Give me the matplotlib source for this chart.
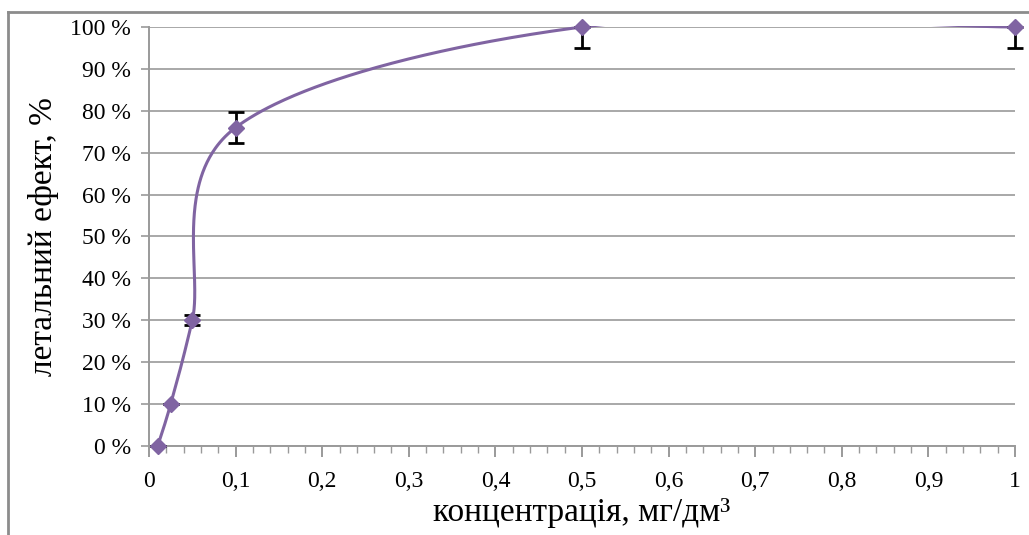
import numpy as np
import matplotlib
matplotlib.use("Agg")
import matplotlib.pyplot as plt
from matplotlib.lines import Line2D
from matplotlib.patches import Rectangle

# Data
conc = [0.01, 0.025, 0.05, 0.1, 0.5, 1.0]
effect = [0, 10, 30, 76, 100, 100]
err_low = [0, 0, 1.2, 3.7, 5, 5]
err_high = [0, 0, 1.2, 3.7, 0, 0]
xticks = [0, 0.1, 0.2, 0.3, 0.4, 0.5, 0.6, 0.7, 0.8, 0.9, 1.0]
xticklabels = ["0", "0,1", "0,2", "0,3", "0,4", "0,5", "0,6", "0,7", "0,8", "0,9", "1"]
yticks = [0, 10, 20, 30, 40, 50, 60, 70, 80, 90, 100]
yticklabels = [f"{v} %" for v in yticks]

purple = "#8064A2"
grid_gray = "#9a9a9a"
serif = ["Liberation Serif", "DejaVu Serif"]

fig = plt.figure(figsize=(10.29, 5.35), dpi=100)
ax = fig.add_axes([149/1029, 1-446/535, (1015-149)/1029, (446-27)/535])

# Excel-like smoothed curve (Bezier with 1/6 tangent factor)
P = np.column_stack([conc, effect]).astype(float)
n = len(P)
curve = []
for i in range(n - 1):
    p0 = P[i]; p1 = P[i + 1]
    pm = P[i - 1] if i > 0 else P[i]
    pp = P[i + 2] if i + 2 < n else P[i + 1]
    c1 = p0 + (p1 - pm) / 6.0
    c2 = p1 - (pp - p0) / 6.0
    t = np.linspace(0, 1, 120)[:, None]
    seg = (1-t)**3*p0 + 3*(1-t)**2*t*c1 + 3*(1-t)*t**2*c2 + t**3*p1
    curve.append(seg if i == 0 else seg[1:])
curve = np.vstack(curve)

line, = ax.plot(curve[:, 0], curve[:, 1], color=purple, lw=2.2, zorder=3)
clip = Rectangle((-0.05, -5), 1.1, 105.3, transform=ax.transData)
line.set_clip_path(clip)

ax.errorbar(conc, effect, yerr=[err_low, err_high], fmt="none", ecolor="black",
            elinewidth=2, capsize=6, capthick=2, zorder=4, clip_on=False)
ax.plot(conc, effect, linestyle="none", marker="D", markersize=8,
        color=purple, zorder=5, clip_on=False)

ax.set_xlim(0, 1)
ax.set_ylim(0, 100)
ax.set_xticks(xticks)
ax.set_xticklabels(xticklabels, family=serif, fontsize=17)
ax.set_xticks(np.arange(0, 1.0001, 0.02), minor=True)
ax.set_yticks(yticks)
ax.set_yticklabels(yticklabels, family=serif, fontsize=17)

ax.grid(axis="y", color=grid_gray, lw=1.2)
ax.set_axisbelow(True)
for s in ["top", "right"]:
    ax.spines[s].set_visible(False)
for s in ["left", "bottom"]:
    ax.spines[s].set_color(grid_gray)
    ax.spines[s].set_linewidth(1.4)

ax.tick_params(axis="x", which="major", direction="out", length=8, width=1.4,
               color=grid_gray, pad=10, labelcolor="black")
ax.tick_params(axis="x", which="minor", direction="out", length=5, width=1,
               color=grid_gray)
ax.tick_params(axis="y", which="major", direction="out", length=6, width=1.2,
               color=grid_gray, pad=7, labelcolor="black")

ax.set_xlabel("концентрація, мг/дм³", family=serif, fontsize=24, labelpad=4)
ax.set_ylabel("летальний ефект, %", family=serif, fontsize=24, labelpad=8)

# outer frame
fig.add_artist(Line2D([8/1029, 8/1029], [0, 1-12/535], transform=fig.transFigure,
                      color="#8c8c8c", lw=2))
fig.add_artist(Line2D([8/1029, 1], [1-12/535, 1-12/535], transform=fig.transFigure,
                      color="#8c8c8c", lw=2))

fig.savefig("out.png", dpi=100)
